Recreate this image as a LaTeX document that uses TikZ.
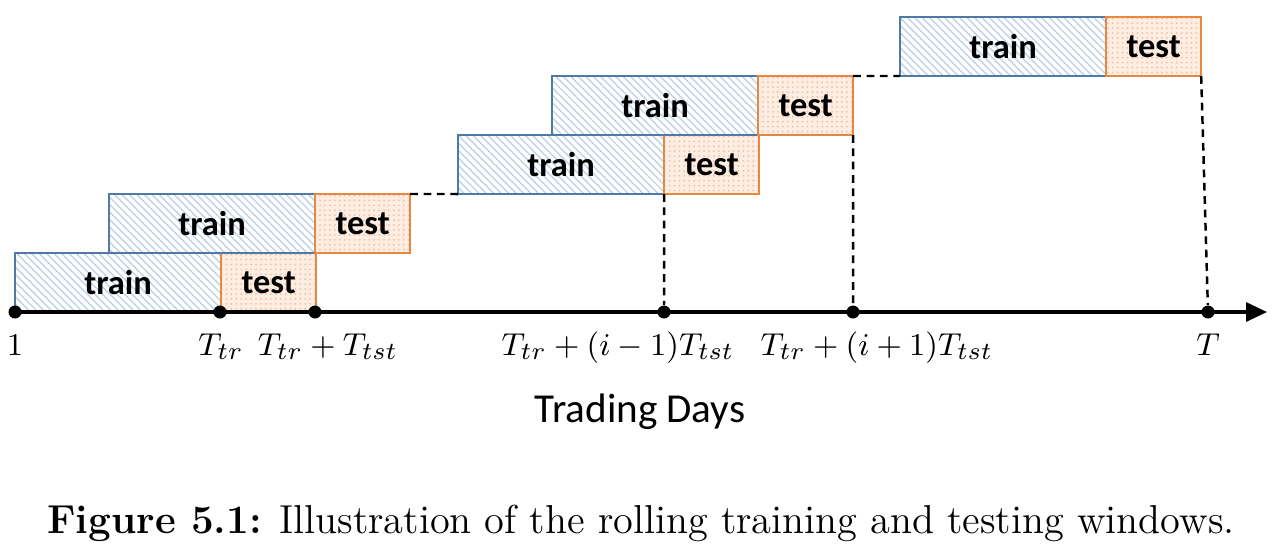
\documentclass[tikz,border=0pt]{standalone}
\usepackage{fontspec}
\newfontfamily\calibri{Carlito}
\usetikzlibrary{positioning,patterns.meta,arrows.meta}
\definecolor{trainline}{HTML}{4F79A7}
\definecolor{trainhatch}{HTML}{BFD2E8}
\definecolor{testline}{HTML}{E8873F}
\definecolor{testfill}{HTML}{FDEDE3}
\definecolor{testdots}{HTML}{F4C3A4}

\begin{document}
\begin{tikzpicture}[x=0.01cm,y=-0.01cm,
  trainbox/.style={draw=trainline, line width=0.6pt, minimum width=2.06cm, minimum height=0.59cm,
    inner sep=0pt, outer sep=0pt, font=\calibri\bfseries\fontsize{9.8}{11}\selectfont,
    preaction={fill=white}, pattern={Lines[angle=-45,distance=1.5pt,line width=0.4pt]}, pattern color=trainhatch},
  testbox/.style={draw=testline, line width=0.6pt, minimum width=0.95cm, minimum height=0.59cm,
    inner sep=0pt, outer sep=0pt, font=\calibri\bfseries\fontsize{9.8}{11}\selectfont,
    preaction={fill=testfill}, pattern={Dots[distance=1.4pt,radius=0.3pt]}, pattern color=testdots},
  dot/.style={circle, fill=black, inner sep=0pt, minimum size=0.13cm},
  gap/.style={dash pattern=on 2.2pt off 1.6pt, line width=0.7pt},
  lbl/.style={anchor=base, font=\fontsize{9.4}{11}\selectfont}]
\useasboundingbox (0,0) rectangle (1282,550);
\node [trainbox, anchor=south west] (tr1) at (15,312) {train};
\node [testbox, right=0pt of tr1] (ts1) {test};
\node [trainbox, anchor=south west] (tr2) at (109,253) {train};
\node [testbox, right=0pt of tr2] (ts2) {test};
\node [trainbox, anchor=south west] (tr3) at (458,194) {train};
\node [testbox, right=0pt of tr3] (ts3) {test};
\node [trainbox, anchor=south west] (tr4) at (552,135) {train};
\node [testbox, right=0pt of tr4] (ts4) {test};
\node [trainbox, anchor=south west] (tr5) at (900,76) {train};
\node [testbox, right=0pt of tr5] (ts5) {test};
\coordinate (axend) at (1267,312);
\node [dot] (d1) at (15,312) {};
\node [dot] (d2) at (220,312) {};
\node [dot] (d3) at (315,312) {};
\node [dot] (d4) at (664,312) {};
\node [dot] (d5) at (853,312) {};
\node [dot] (d6) at (1208,312) {};
\draw [line width=0.9pt, -{Triangle[length=0.21cm,width=0.19cm]}] (d1.center) -- (axend);
\draw [gap] (ts2.north east) -- (tr3.south west);
\draw [gap] (ts4.north east) -- (tr5.south west);
\draw [gap] (ts3.south west) -- (d4);
\draw [gap] (ts4.south east) -- (d5);
\draw [gap] (ts5.south east) -- (d6);
\node [lbl] (l1) at (15,355) {$1$};
\node [lbl] (l2) at (221,355) {$T_{tr}$};
\node [lbl] (l3) at (328,355) {$T_{tr}+T_{tst}$};
\node [lbl] (l4) at (618,355) {$T_{tr}+(i-1)T_{tst}$};
\node [lbl] (l5) at (877,355) {$T_{tr}+(i+1)T_{tst}$};
\node [lbl] (l6) at (1208,355) {$T$};
\node [anchor=base, font=\calibri\fontsize{11.7}{14}\selectfont] (days) at (640,422) {Trading Days};
\node [anchor=base, scale=0.957, transform shape, font=\fontsize{12}{14}\selectfont] (cap) at (641,533) {\textbf{Figure 5.1:} Illustration of the rolling training and testing windows.};
\end{tikzpicture}
\end{document}
